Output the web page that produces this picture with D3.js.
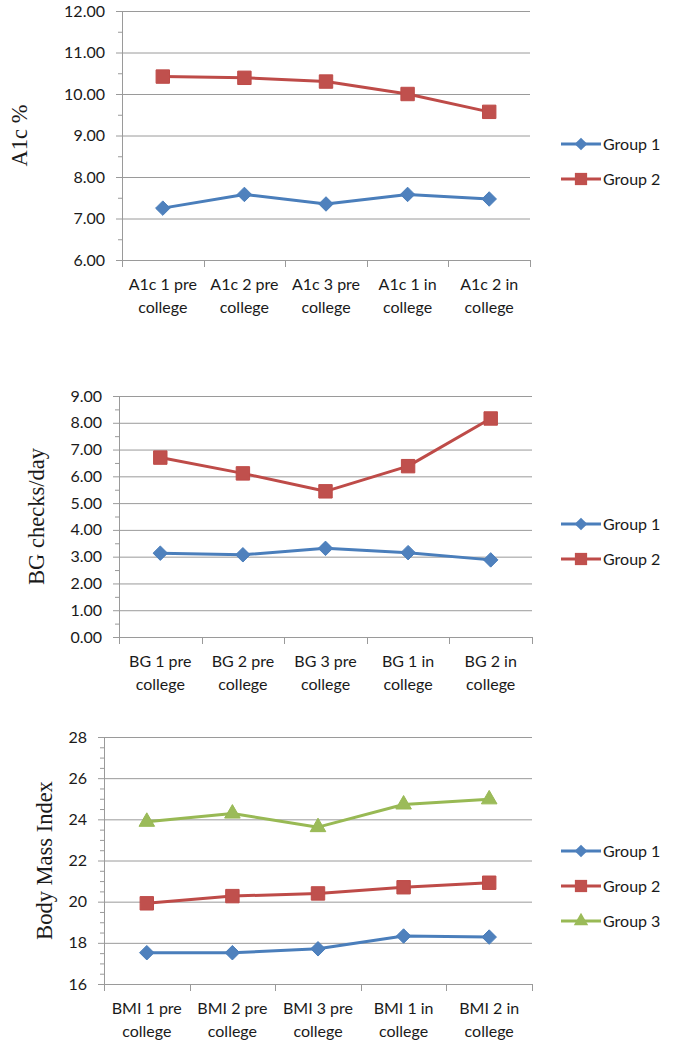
<!DOCTYPE html>
<html><head><meta charset="utf-8">
<script src="https://cdn.jsdelivr.net/npm/d3@7"></script>
<style>body{margin:0;background:#fff}svg{display:block}</style>
</head><body>
<svg id="c" width="677" height="1050"></svg>
<script>
// ---- data ----
const a1cCategories = [["A1c 1 pre","college"],["A1c 2 pre","college"],["A1c 3 pre","college"],["A1c 1 in","college"],["A1c 2 in","college"]];
const a1cGroup1 = [7.25, 7.58, 7.35, 7.58, 7.47];
const a1cGroup2 = [10.42, 10.39, 10.30, 10.00, 9.57];
const a1cTicks = [6,7,8,9,10,11,12];

const bgCategories = [["BG 1 pre","college"],["BG 2 pre","college"],["BG 3 pre","college"],["BG 1 in","college"],["BG 2 in","college"]];
const bgGroup1 = [3.13, 3.07, 3.31, 3.15, 2.88];
const bgGroup2 = [6.70, 6.11, 5.44, 6.38, 8.16];
const bgTicks = [0,1,2,3,4,5,6,7,8,9];

const bmiCategories = [["BMI 1 pre","college"],["BMI 2 pre","college"],["BMI 3 pre","college"],["BMI 1 in","college"],["BMI 2 in","college"]];
const bmiGroup1 = [17.52, 17.52, 17.71, 18.33, 18.28];
const bmiGroup2 = [19.92, 20.27, 20.40, 20.70, 20.92];
const bmiGroup3 = [23.88, 24.28, 23.62, 24.72, 24.97];
const bmiTicks = [16,18,20,22,24,26,28];

const seriesNames = ["Group 1","Group 2","Group 3"];
const lineColors = ["#4A7EBB","#BE4B48","#98B954"];
const markerColors = ["#4F81BD","#C0504D","#9BBB59"];

const diamond = {draw(ctx, size){ const r = Math.sqrt(size/2); ctx.moveTo(0,-r); ctx.lineTo(r,0); ctx.lineTo(0,r); ctx.lineTo(-r,0); ctx.closePath(); }};
const markerShapes = [diamond, d3.symbolSquare, d3.symbolTriangle];
const markerSizes = [105, 180, 105];
const legendSizes = [80, 150, 90];

const svg = d3.select("#c");
const FONT = "Lato, 'Open Sans', sans-serif";

function drawChart(o){
  const g = svg.append("g");
  const x = d3.scaleBand().domain(o.categories.map((d,i)=>i)).range([o.left,o.right]);
  const y = d3.scaleLinear().domain(o.domain).range([o.bottom,o.top]);
  const grid = "#9a9a9a";
  g.selectAll(".gl").data(o.ticks).join("line")
    .attr("x1",o.left-6).attr("x2",o.right)
    .attr("y1",d=>y(d)+0.5).attr("y2",d=>y(d)+0.5)
    .attr("stroke",grid).attr("stroke-width",1);
  const minor = d3.range(o.domain[0],o.domain[1]+1e-9,o.minorStep).filter(v=>!o.ticks.some(t=>Math.abs(t-v)<1e-9));
  g.selectAll(".mt").data(minor).join("line")
    .attr("x1",o.left-4).attr("x2",o.left)
    .attr("y1",d=>y(d)+0.5).attr("y2",d=>y(d)+0.5)
    .attr("stroke",grid).attr("stroke-width",1);
  g.append("line").attr("x1",o.left+0.5).attr("x2",o.left+0.5).attr("y1",o.top).attr("y2",o.bottom+0.5)
    .attr("stroke",grid);
  const bounds = o.categories.map((d,i)=>x(i)).concat([o.right]);
  g.selectAll(".xt").data(bounds).join("line")
    .attr("x1",d=>Math.round(d)+0.5).attr("x2",d=>Math.round(d)+0.5)
    .attr("y1",o.bottom).attr("y2",o.bottom+7)
    .attr("stroke",grid);
  g.selectAll(".yl").data(o.ticks).join("text")
    .attr("x",o.left-17).attr("y",d=>y(d)).attr("dy","0.35em")
    .attr("text-anchor","end").attr("font-family",FONT).attr("font-size",16).attr("fill","#1a1a1a")
    .text(d=>d3.format(o.fmt)(d));
  o.categories.forEach((c,i)=>{
    c.forEach((line,j)=>{
      g.append("text").attr("x",x(i)+x.bandwidth()/2).attr("y",o.bottom+30+j*23)
        .attr("text-anchor","middle").attr("font-family",FONT).attr("font-size",16).attr("fill","#1a1a1a")
        .text(line);
    });
  });
  g.append("text").attr("transform",`translate(${o.titleX},${(o.top+o.bottom)/2}) rotate(-90)`)
    .attr("dy","0.35em").attr("text-anchor","middle")
    .attr("font-family","'Liberation Serif','Times New Roman',serif").attr("font-size",22.5).attr("fill","#1a1a1a")
    .text(o.title);
  const line = d3.line().x((d,i)=>x(i)+x.bandwidth()/2).y(d=>y(d));
  o.series.forEach((s,k)=>{
    g.append("path").datum(s).attr("d",line).attr("fill","none")
      .attr("stroke",lineColors[k]).attr("stroke-width",3).attr("stroke-linejoin","round");
    g.selectAll(".m"+k).data(s).join("path")
      .attr("transform",(d,i)=>`translate(${x(i)+x.bandwidth()/2},${y(d)})`)
      .attr("d",d3.symbol().type(markerShapes[k]).size(markerSizes[k]))
      .attr("fill",markerColors[k]).attr("stroke",lineColors[k]).attr("stroke-width",1);
  });
  o.series.forEach((s,k)=>{
    const ly = o.legendY + k*35;
    g.append("line").attr("x1",561).attr("x2",601).attr("y1",ly).attr("y2",ly)
      .attr("stroke",lineColors[k]).attr("stroke-width",3);
    g.append("path").attr("transform",`translate(581,${ly})`)
      .attr("d",d3.symbol().type(markerShapes[k]).size(legendSizes[k]))
      .attr("fill",markerColors[k]);
    g.append("text").attr("x",603).attr("y",ly).attr("dy","0.35em")
      .attr("font-family",FONT).attr("font-size",16).attr("fill","#1a1a1a").text(seriesNames[k]);
  });
}

drawChart({categories:a1cCategories, series:[a1cGroup1,a1cGroup2], ticks:a1cTicks, domain:[6,12], minorStep:0.5,
  left:122, right:530, top:11, bottom:260, fmt:".2f", title:"A1c %", titleX:19, legendY:144});
drawChart({categories:bgCategories, series:[bgGroup1,bgGroup2], ticks:bgTicks, domain:[0,9], minorStep:0.5,
  left:119, right:532, top:396, bottom:637, fmt:".2f", title:"BG checks/day", titleX:36, legendY:524});
drawChart({categories:bmiCategories, series:[bmiGroup1,bmiGroup2,bmiGroup3], ticks:bmiTicks, domain:[16,28], minorStep:0.5,
  left:104, right:532, top:737, bottom:984, fmt:"d", title:"Body Mass Index", titleX:44, legendY:851});
</script>
</body></html>
